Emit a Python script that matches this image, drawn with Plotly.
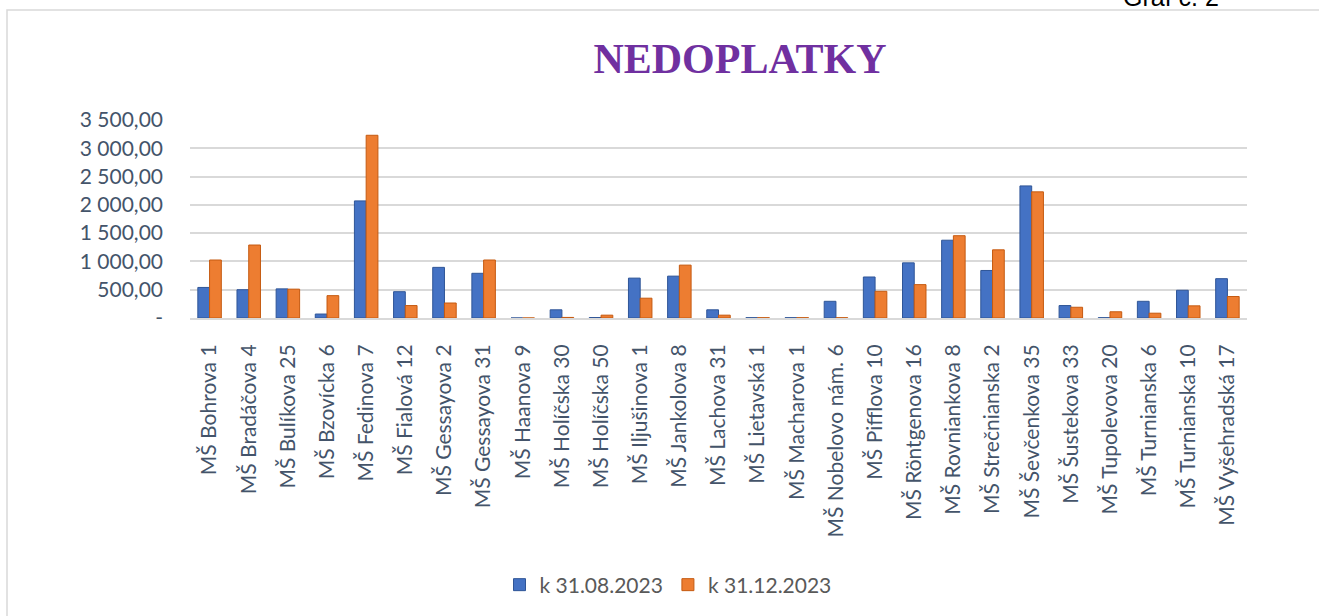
import plotly.graph_objects as go

categories = [
    "MŠ Bohrova 1", "MŠ Bradáčova 4", "MŠ Bulíkova 25", "MŠ Bzovícka 6", "MŠ Fedinova 7",
    "MŠ Fialová 12", "MŠ Gessayova 2", "MŠ Gessayova 31", "MŠ Haanova 9", "MŠ Holíčska 30",
    "MŠ Holíčska 50", "MŠ Iljušinova 1", "MŠ Jankolova 8", "MŠ Lachova 31", "MŠ Lietavská 1",
    "MŠ Macharova 1", "MŠ Nobelovo nám. 6", "MŠ Pifflova 10", "MŠ Röntgenova 16",
    "MŠ Rovniankova 8", "MŠ Strečnianska 2", "MŠ Ševčenkova 35", "MŠ Šustekova 33",
    "MŠ Tupolevova 20", "MŠ Turnianska 6", "MŠ Turnianska 10", "MŠ Vyšehradská 17",
]
values_aug = [540, 500, 515, 70, 2070, 465, 895, 790, 0, 145,
              8, 705, 740, 145, 5, 5, 295, 725, 975,
              1375, 840, 2335, 220, 5, 295, 490, 695]
values_dec = [1025, 1290, 510, 395, 3230, 220, 265, 1025, 0, 10,
              50, 350, 935, 50, 5, 5, 5, 472, 590,
              1455, 1205, 2230, 190, 110, 85, 215, 380]
series_names = ["k 31.08.2023", "k 31.12.2023"]
tick_vals = [0, 500, 1000, 1500, 2000, 2500, 3000, 3500]
tick_text = ["-", "500,00", "1 000,00", "1 500,00", "2 000,00", "2 500,00", "3 000,00", "3 500,00"]

W, H = 1319, 616
L, R, T, B = 190, 72, 120, 298
pw, ph = W - L - R, H - T - B

def px_x(p):
    return (p - L) / pw

def px_y(p):
    return (H - B - p) / ph

fig = go.Figure()
fig.add_trace(go.Bar(
    x=categories, y=values_aug, name=series_names[0],
    marker=dict(color="#4472C4", line=dict(color="#2F5597", width=1)),
))
fig.add_trace(go.Bar(
    x=categories, y=values_dec, name=series_names[1],
    marker=dict(color="#ED7D31", line=dict(color="#C55A11", width=1)),
))

font_fam = "Lato, Open Sans, sans-serif"
label_col = "#44546A"

fig.update_layout(
    width=W, height=H,
    margin=dict(l=L, r=R, t=T, b=B, autoexpand=False),
    paper_bgcolor="white", plot_bgcolor="white",
    barmode="group", bargap=0.4, bargroupgap=0.0,
    title=dict(
        text="<b>NEDOPLATKY</b>",
        font=dict(family="Liberation Serif, Times New Roman, serif", size=42, color="#7030A0"),
        x=740 / W, xanchor="center", xref="container",
        y=1 - 58 / H, yanchor="middle", yref="container",
    ),
    xaxis=dict(
        tickangle=-90, tickfont=dict(family=font_fam, size=21, color=label_col),
        showgrid=False, showline=True, linecolor="#D9D9D9", linewidth=2, ticks="",
        range=[-0.5, len(categories) - 0.5], automargin=False,
        ticklabelstandoff=16,
    ),
    yaxis=dict(
        range=[0, 3500], tickvals=tick_vals, ticktext=tick_text,
        tickfont=dict(family=font_fam, size=21, color=label_col),
        showgrid=True, gridcolor="#D9D9D9", gridwidth=2, zeroline=False,
        ticks="", ticklabelstandoff=26, automargin=False,
    ),
    legend=dict(
        orientation="h", x=px_x(668), xanchor="center", y=px_y(585), yanchor="middle",
        font=dict(family=font_fam, size=21, color="#595959"),
        traceorder="normal",
    ),
    showlegend=True,
)

# chart area border
fig.add_shape(type="rect", xref="paper", yref="paper",
              x0=px_x(7), x1=px_x(1340), y0=px_y(640), y1=px_y(10),
              line=dict(color="#D9D9D9", width=1.5), fillcolor="rgba(0,0,0,0)", layer="below")

fig.add_annotation(text="Graf č. 2", xref="paper", yref="paper",
                   x=px_x(1171), y=px_y(13), xanchor="center", yanchor="bottom",
                   showarrow=False, font=dict(family="Liberation Sans, Arial", size=25, color="black"))

fig.write_html("out.html", config={"displayModeBar": False},
               post_script="document.body.style.margin='0';")
